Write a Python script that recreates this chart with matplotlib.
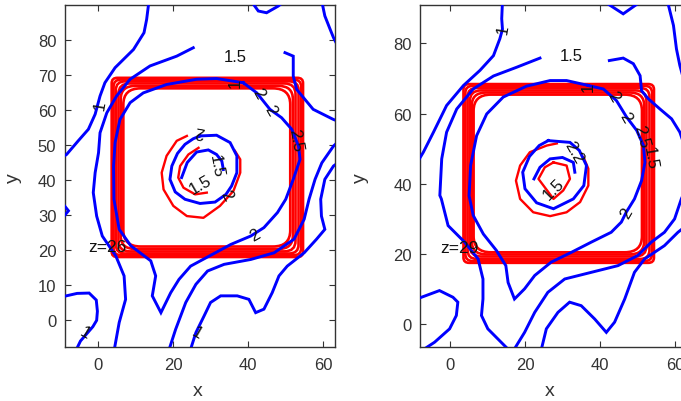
import matplotlib
matplotlib.use("Agg")
import matplotlib.pyplot as plt
from matplotlib.patches import FancyBboxPatch

# ---------------- data: left panel (z=26) ----------------
z_left = "z=26"
L_c1_top_x = [13.6, 13.0, 12.3, 9.5, 4.6, 1.9, 0.6, -0.7, -2.5, -5.2, -8.3, -9.5]
L_c1_top_y = [91.0, 85.9, 82.1, 77.3, 72.1, 67.8, 64.0, 58.8, 54.5, 51.2, 47.3, 46.5]
L_c1_bot_x = [-9.5, -8.8, -5.5, -2.3, -0.4, -0.1, -0.3, -1.3, -4.6, -5.5, -6.2]
L_c1_bot_y = [6.7, 6.8, 7.6, 7.7, 5.7, 2.5, -0.1, -1.9, -6.0, -8.0, -9.0]
L_c15a_x = [25.4, 21.0, 13.9, 8.6, 5.0, 2.4, 0.6, 0.2, -0.7, -1.2, -0.3, 1.2, 4.8, 7.0, 7.4, 5.7, 4.3]
L_c15a_y = [77.8, 75.4, 72.6, 68.8, 64.0, 59.2, 53.5, 47.8, 42.1, 36.4, 29.7, 24.0, 18.3, 12.6, 5.9, -0.7, -9.0]
L_c15b_x = [49.8, 52.0, 52.0, 52.9, 57.3, 62.7, 64.0]
L_c15b_y = [76.4, 75.4, 69.7, 65.9, 60.2, 57.3, 56.8]
L_c2_x = [38.7, 31.6, 26.3, 18.3, 12.1, 8.6, 5.9, 4.6, 4.2, 4.3, 5.7, 8.8, 14.1, 15.4, 14.5, 16.8,
          19.4, 21.6, 24.7, 35.4, 40.7, 44.2, 47.8, 50.0, 52.0, 53.8, 53.4, 51.6, 48.9, 45.8, 42.3, 38.7]
L_c2_y = [67.8, 69.0, 68.8, 67.3, 64.9, 62.1, 57.3, 50.7, 44.0, 34.5, 25.9, 21.2, 16.9, 12.6, 6.9, 2.1,
          7.8, 11.6, 15.4, 21.6, 24.0, 26.4, 30.7, 34.5, 40.2, 45.9, 49.7, 54.5, 57.8, 60.2, 64.9, 67.8]
L_d_x = [18.8, 20.7, 23.4, 26.1, 29.2, 33.6, 40.7, 46.9, 52.2, 54.9, 56.2, 57.8, 59.6, 62.7, 64.0]
L_d_y = [-9.0, -2.7, 5.0, 10.2, 14.0, 15.9, 17.3, 19.2, 23.1, 28.8, 34.5, 40.2, 44.9, 49.7, 51.0]
L_e_x = [24.5, 26.1, 28.3, 30.0, 32.7, 37.1, 40.2, 42.0, 44.2, 46.4, 48.2, 50.4, 54.9, 58.2, 60.4,
         59.5, 59.3, 60.4, 62.7, 64.0]
L_e_y = [-9.0, -3.6, 1.2, 5.0, 6.9, 6.9, 5.9, 2.1, 3.1, 7.8, 12.6, 15.4, 19.2, 23.1, 25.9,
         29.7, 34.5, 40.2, 44.0, 45.0]
L_top_x = [40.9, 42.7, 44.9, 48.0, 49.5]
L_top_y = [91.0, 88.3, 87.8, 89.7, 91.0]
L_topr_x = [59.6, 60.4, 61.8, 62.7, 64.0]
L_topr_y = [91.0, 86.9, 83.1, 80.7, 78.0]
L_blip_x = [-9.5, -7.8, -9.5]
L_blip_y = [33.5, 31.2, 29.0]
L_in_bo_x = [27.2, 31.6, 35.2, 37.0, 37.0, 35.6, 34.1, 31.2, 27.2, 23.2, 20.6, 19.2, 19.7, 21.2, 23.2, 25.4, 27.2]
L_in_bo_y = [52.6, 52.8, 50.7, 46.9, 42.1, 38.3, 35.9, 33.7, 33.3, 34.5, 36.6, 40.2, 44.0, 47.6, 50.2, 51.8, 52.6]
L_in_bi_x = [22.3, 23.8, 26.3, 29.4, 31.6, 33.0, 33.4]
L_in_bi_y = [40.7, 45.0, 48.0, 48.6, 47.3, 45.4, 43.0]
L_in_ro_x = [23.7, 21.0, 18.3, 17.0, 17.5, 20.1, 23.7, 28.1, 32.5, 36.1, 37.9, 37.9, 36.5]
L_in_ro_y = [52.6, 51.2, 46.9, 42.1, 37.3, 32.6, 29.7, 29.2, 32.6, 36.9, 42.1, 45.9, 48.3]
L_in_ri_x = [26.8, 24.1, 21.9, 21.4, 22.8, 25.9, 29.0]
L_in_ri_y = [49.2, 47.3, 44.0, 40.7, 37.8, 35.9, 36.4]
L_sq_left = [3.7, 4.2, 4.8, 5.5, 6.1, 6.8]
L_sq_right = [54.6, 54.1, 53.4, 52.6, 51.9, 51.2]
L_sq_bottom = [18.0, 18.5, 19.0, 19.6, 20.3, 21.0]
L_sq_top = [69.2, 68.7, 68.2, 67.6, 66.9, 66.2]
L_lab_text = ["1", "1.5", "1", "2", "2", "2.5", "2", "1.5", "1.5", "2", "2", "1", "1"]
L_lab_x = [0.6, 36.5, 36.5, 42.7, 45.8, 52.5, 27.0, 31.4, 27.2, 34.1, 41.8, -3.4, 26.3]
L_lab_y = [61.6, 75.4, 67.8, 64.9, 60.2, 51.6, 54.0, 44.0, 38.8, 35.9, 24.5, -3.6, -3.6]
L_lab_rot = [80, 0, 90, -60, -60, -80, 170, -80, 30, -60, 30, -30, -30]

# ---------------- data: right panel (z=29) ----------------
z_right = "z=29"
R_c1_top_x = [14.0, 13.8, 14.0, 13.3, 11.6, 8.0, 3.6, -0.9, -4.4, -7.1, -8.5]
R_c1_top_y = [92.0, 87.0, 84.0, 81.3, 76.5, 72.3, 68.0, 62.3, 54.7, 49.0, 46.5]
R_c1_bot_x = [-9.0, -7.6, -2.8, 0.8, 2.1, 1.7, -0.1, -4.1, -6.8, -8.0]
R_c1_bot_y = [7.2, 7.7, 9.6, 7.7, 6.3, 2.5, -1.3, -5.1, -7.0, -8.0]
R_c15a_x = [24.0, 17.8, 11.6, 6.2, 1.8, -0.9, -2.2, -2.7, -2.3, -0.5, 3.9, 7.5, 8.8, 8.8, 8.4, 10.1, 12.8, 15.5, 16.5]
R_c15a_y = [75.8, 73.2, 70.7, 67.0, 61.3, 54.7, 47.1, 36.7, 35.7, 28.1, 23.4, 18.6, 12.9, 7.2, 2.5, -1.3, -4.2, -7.1, -8.0]
R_c15b_x = [42.5, 46.2, 48.9, 50.7, 51.1, 52.9, 56.0, 59.1, 61.3, 62.2, 63.5]
R_c15b_y = [75.1, 75.8, 74.2, 70.8, 66.5, 64.2, 61.3, 58.5, 54.7, 51.9, 49.0]
R_c2_x = [36.9, 31.1, 26.7, 20.4, 14.2, 9.8, 7.1, 5.5, 5.1, 6.2, 8.9, 12.4, 14.9, 15.5, 17.2,
          19.9, 22.6, 27.0, 32.4, 37.7, 43.0, 45.7, 47.0, 49.2, 51.1, 52.0, 51.6, 49.8, 47.1, 44.4, 40.9, 36.9]
R_c2_y = [68.0, 69.4, 69.4, 67.8, 64.7, 59.9, 53.7, 45.2, 36.6, 31.0, 25.7, 21.0, 16.7, 11.9, 7.2,
          10.1, 13.9, 17.7, 20.5, 23.4, 26.2, 29.1, 31.9, 35.7, 40.9, 46.1, 50.9, 55.2, 59.0, 63.7, 67.0, 68.0]
R_d_x = [17.2, 19.9, 22.6, 26.1, 30.6, 37.7, 44.8, 50.1, 53.7, 57.2, 59.9, 61.7, 63.5]
R_d_y = [-7.0, -2.3, 3.4, 9.1, 12.9, 14.8, 16.7, 19.6, 23.4, 26.2, 30.0, 35.7, 40.0]
R_e_x = [24.4, 25.7, 28.8, 31.9, 35.0, 38.6, 41.7, 43.9, 46.6, 49.2, 51.9, 57.2, 60.8, 63.5]
R_e_y = [-7.0, -1.3, 3.4, 6.3, 5.3, 1.5, -2.3, 0.6, 7.2, 14.8, 18.6, 22.4, 26.2, 28.5]
R_top_x = [41.0, 46.2, 51.0]
R_top_y = [92.0, 88.4, 92.0]
R_topr_x = [58.0, 59.6, 60.4, 61.3, 62.5]
R_topr_y = [92.0, 85.1, 78.4, 73.7, 69.0]
R_in_bo_x = [26.2, 32.0, 34.5, 36.4, 35.7, 32.9, 27.6, 23.1, 20.0, 19.4, 21.2, 23.8, 26.2]
R_in_bo_y = [52.3, 51.8, 49.5, 45.2, 39.5, 35.7, 32.9, 34.6, 38.6, 43.3, 47.8, 50.9, 52.3]
R_in_bi_x = [33.3, 32.9, 30.0, 26.7, 24.0, 22.4]
R_in_bi_y = [43.3, 46.1, 47.5, 47.1, 44.7, 41.4]
R_in_ro_x = [28.5, 25.8, 21.3, 18.7, 17.6, 18.7, 22.2, 26.7, 31.1, 34.7, 36.9, 36.9, 35.6]
R_in_ro_y = [51.5, 50.9, 49.0, 45.2, 40.9, 35.7, 31.9, 30.8, 31.9, 34.8, 39.5, 44.3, 47.6]
R_in_ri_x = [27.6, 31.1, 32.0, 30.2, 27.6, 23.6, 25.3, 27.6]
R_in_ri_y = [46.1, 45.2, 41.4, 38.1, 35.7, 41.4, 44.7, 46.1]
R_sq_left = [3.6, 4.1, 4.7, 5.3, 5.8, 6.3]
R_sq_right = [54.4, 53.9, 53.2, 52.4, 51.8, 51.2]
R_sq_bottom = [17.5, 18.0, 18.6, 19.3, 19.9, 20.5]
R_sq_top = [68.4, 67.9, 67.3, 66.6, 66.0, 65.4]
R_lab_text = ["1", "1.5", "1", "2", "2", "2.5", "1.5", "2", "2.2", "1.5"]
R_lab_x = [14.2, 32.4, 36.9, 43.6, 46.7, 51.1, 53.3, 47.0, 32.9, 27.6]
R_lab_y = [84.1, 76.5, 67.8, 65.1, 59.0, 53.7, 47.6, 31.9, 49.0, 38.5]
R_lab_rot = [80, 0, 90, -60, -60, -75, -80, 60, -60, 45]

left_xticks = [0, 20, 40, 60]
left_yticks = [0, 10, 20, 30, 40, 50, 60, 70, 80]
right_xticks = [0, 20, 40, 60]
right_yticks = [0, 20, 40, 60, 80]

plt.rcParams["font.family"] = ["Liberation Sans", "DejaVu Sans"]

fig = plt.figure(figsize=(6.81, 4.02), dpi=100)
BLUE = "#0000ff"
RED = "#ff0000"


def panel(rect, xlim, ylim, xticks, yticks, blue, red, sq, labels, ztxt, zpos, xlab_pos, ylab_pos):
    ax = fig.add_axes(rect)
    ax.set_xlim(*xlim)
    ax.set_ylim(*ylim)
    # red square band
    for l, r, b, t, rs in zip(sq[0], sq[1], sq[2], sq[3], [1.5, 2.0, 2.5, 3.0, 3.8, 4.6]):
        ax.add_patch(FancyBboxPatch((l, b), r - l, t - b,
                                    boxstyle=f"round,pad=0,rounding_size={rs}",
                                    fill=False, ec=RED, lw=1.9, zorder=2))
    for xs, ys in red:
        ax.plot(xs, ys, color=RED, lw=1.7, zorder=2)
    for xs, ys in blue:
        ax.plot(xs, ys, color=BLUE, lw=2.1, zorder=3, solid_joinstyle="miter")
    for txt, x, y, rot in zip(*labels):
        ax.text(x, y, txt, rotation=rot, ha="center", va="center", fontsize=12,
                color="#111111", zorder=5, rotation_mode="anchor")
    ax.text(zpos[0], zpos[1], ztxt, ha="left", va="center", fontsize=12.5, color="#111111", zorder=5)
    ax.set_xticks(xticks)
    ax.set_yticks(yticks)
    ax.tick_params(direction="in", top=True, right=True, length=4, width=0.8,
                   labelsize=12, colors="#333333")
    ax.tick_params(axis="x", pad=7)
    ax.tick_params(axis="y", pad=6)
    for s in ax.spines.values():
        s.set_color("#333333")
        s.set_linewidth(1.0)
    ax.set_xlabel("x", fontsize=14, color="#333333")
    ax.set_ylabel("y", fontsize=14, color="#333333")
    ax.xaxis.set_label_coords(*xlab_pos)
    ax.yaxis.set_label_coords(*ylab_pos)
    return ax


panel([0.0950, 0.1336, 0.3969, 0.8522], (-8.8, 63.1), (-7.8, 90.1), left_xticks, left_yticks,
      [(L_c1_top_x, L_c1_top_y), (L_c1_bot_x, L_c1_bot_y), (L_c15a_x, L_c15a_y),
       (L_c15b_x, L_c15b_y), (L_c2_x, L_c2_y), (L_d_x, L_d_y), (L_e_x, L_e_y),
       (L_top_x, L_top_y), (L_topr_x, L_topr_y), (L_blip_x, L_blip_y),
       (L_in_bo_x, L_in_bo_y), (L_in_bi_x, L_in_bi_y)],
      [(L_in_ro_x, L_in_ro_y), (L_in_ri_x, L_in_ri_y)],
      (L_sq_left, L_sq_right, L_sq_bottom, L_sq_top),
      (L_lab_text, L_lab_x, L_lab_y, L_lab_rot), z_left, (-2.6, 21.0),
      (0.493, -0.10), (-0.158, 0.497))

panel([0.6167, 0.1336, 0.3915, 0.8522], (-8.0, 63.1), (-6.55, 91.0), right_xticks, right_yticks,
      [(R_c1_top_x, R_c1_top_y), (R_c1_bot_x, R_c1_bot_y), (R_c15a_x, R_c15a_y),
       (R_c15b_x, R_c15b_y), (R_c2_x, R_c2_y), (R_d_x, R_d_y), (R_e_x, R_e_y),
       (R_top_x, R_top_y), (R_topr_x, R_topr_y),
       (R_in_bo_x, R_in_bo_y), (R_in_bi_x, R_in_bi_y)],
      [(R_in_ro_x, R_in_ro_y), (R_in_ri_x, R_in_ri_y)],
      (R_sq_left, R_sq_right, R_sq_bottom, R_sq_top),
      (R_lab_text, R_lab_x, R_lab_y, R_lab_rot), z_right, (-2.7, 21.9),
      (0.488, -0.10), (-0.191, 0.497))

fig.savefig("out.png", dpi=100)
